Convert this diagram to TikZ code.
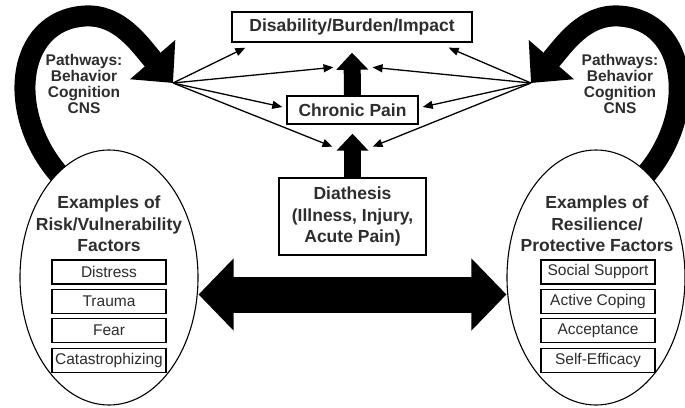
\documentclass[tikz,border=0pt]{standalone}
\usepackage{fontspec}
\setmainfont{Liberation Sans}
\usetikzlibrary{arrows.meta, positioning, shapes.geometric, calc, backgrounds}
\definecolor{Ink}{RGB}{45,45,45}

\begin{document}
\begin{tikzpicture}[x=1pt, y=-1pt,
    every node/.style={align=center, text=Ink},
    headtext/.style={font=\fontsize{17.5}{21.5}\selectfont\bfseries},
    headbox/.style={headtext, draw=black, line width=1.4pt, fill=white, inner sep=1pt},
    itembox/.style={draw=black, line width=1.2pt, fill=white, inner sep=1pt,
        minimum width=114pt, minimum height=24pt, font=\fontsize{15.5}{18}\selectfont},
    factor/.style={ellipse, draw=black, line width=1.1pt, fill=white,
        minimum width=178pt, minimum height=255pt, inner sep=0pt},
    pathtext/.style={font=\fontsize{15.5}{16}\selectfont\bfseries},
    thin arrow/.style={line width=1.3pt, -{Triangle[length=10pt, width=8pt]}},
    up arrow/.style={line width=17pt, -{Triangle[length=17pt, width=31pt]}},
    wide arrow/.style={line width=36pt, {Triangle[length=35pt, width=70pt]}-{Triangle[length=35pt, width=70pt]}},
    loop arrow/.style={line width=21pt, -{Triangle[length=31pt, width=58pt]}}
]
\useasboundingbox (0,0) rectangle (685,407);
% Central chain
\node[headbox, minimum width=240pt, minimum height=30pt] (impact) at (352,27) {Disability/Burden/Impact};
\node[headbox, minimum width=131pt, minimum height=28pt] (chronic) at (352.5,110) {Chronic Pain};
\node[headbox, minimum width=147pt, minimum height=77pt] (diath) at (352.5,216.5) {Diathesis\\(Illness, Injury,\\Acute Pain)};
% Factor ellipses
\node[factor] (risk) at (109,277.5) {};
\node[factor] (resil) at (596,277.5) {};
\node[headtext] (riskT) at (109,224) {Examples of\\Risk/Vulnerability\\Factors};
\node[headtext] (resilT) at (597,224) {Examples of\\Resilience/\\Protective Factors};
\foreach \i/\txt in {1/Distress, 2/Trauma, 3/Fear, 4/Catastrophizing}
    \node[itembox] (risk\i) at (109,242.5+29.4*\i) {\txt};
\foreach \i/\txt in {1/Social Support, 2/Active Coping, 3/Acceptance, 4/Self-Efficacy}
    \node[itembox] (resil\i) at (598,242.5+29.4*\i) {\txt};
% Pathways
\node[pathtext] (pathL) at (84,84) {Pathways:\\Behavior\\Cognition\\CNS};
\node[pathtext] (pathR) at (620,84) {Pathways:\\Behavior\\Cognition\\CNS};
\coordinate (hubL) at (173,83);
\coordinate (hubR) at (531,83);
% Arrow targets
\coordinate (impL) at ($(impact.south west)+(14,5)$);
\coordinate (impR) at ($(impact.south east)+(-24,5)$);
\coordinate (upL) at ($(chronic.north)+(-19,-28)$);
\coordinate (upR) at ($(chronic.north)+(20,-28)$);
\coordinate (cpL) at ($(chronic.west)+(-4,-3)$);
\coordinate (cpR) at ($(chronic.east)+(4,-3)$);
\coordinate (loL) at ($(chronic.south)+(-20,22)$);
\coordinate (loR) at ($(chronic.south)+(20,22)$);
% Thick arrows
\draw[up arrow] (diath.north) -- ([yshift=-9pt]chronic.south);
\draw[up arrow] (chronic.north) -- ([yshift=-10pt]impact.south);
\draw[wide arrow] ([yshift=-17pt]risk.east) -- ([yshift=-17pt]resil.west);
% Thin arrows
\foreach \s in {L,R}
    \foreach \t in {imp,up,cp,lo}
        \draw[thin arrow] (hub\s) -- (\t\s);
% Feedback loops
\begin{scope}[on background layer]
\draw[loop arrow] ([shift={(2,6)}]risk.115) .. controls (5,115) and (15,20) .. (85,16)
    .. controls (120,14) and (140,45) .. (hubL);
\draw[loop arrow] ([shift={(-2,6)}]resil.65) .. controls (699,115) and (689,20) .. (619,16)
    .. controls (584,14) and (564,45) .. (hubR);
\end{scope}
\end{tikzpicture}
\end{document}
